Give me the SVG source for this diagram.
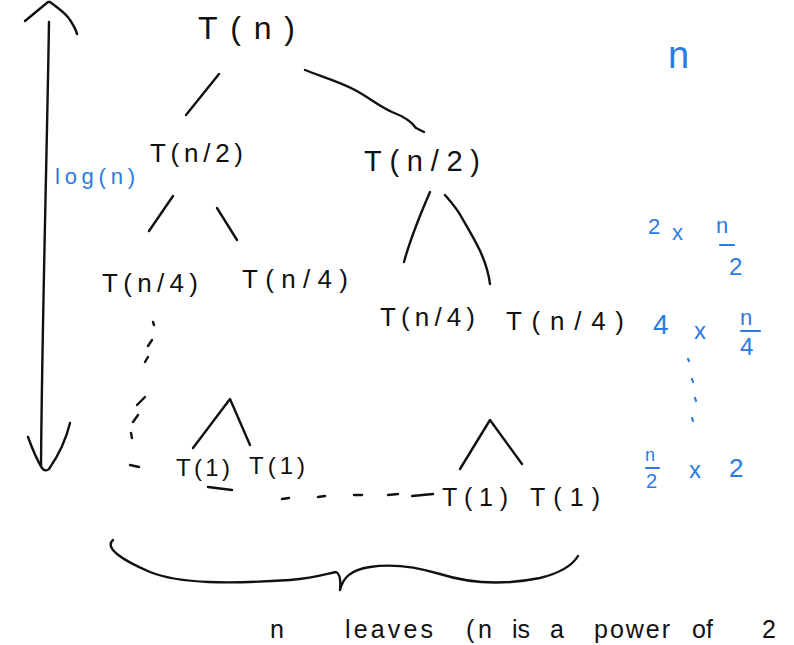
<svg xmlns="http://www.w3.org/2000/svg" width="794" height="645" viewBox="0 0 794 645">
<style>
.s{fill:none;stroke:#111;stroke-width:2.4;stroke-linecap:round;stroke-linejoin:round}
.b{fill:none;stroke:#2a7be4;stroke-width:2.2;stroke-linecap:round}
.t{font-family:"Liberation Sans",Arial,sans-serif;fill:#111}
.bl{font-family:"Liberation Sans",Arial,sans-serif;fill:#2a7be4}
</style>
<rect width="794" height="645" fill="#fff"/>
<g id="connectors">
<path class="s" d="M219 74 L186 115"/>
<path class="s" d="M305 70 C320 76 340 82 355 90 C370 98 378 106 392 112 C405 117 412 122 416 128 L424 132"/>
<path class="s" d="M173 196 L149 231"/>
<path class="s" d="M217 208 L237 240"/>
<path class="s" d="M430 192 C420 215 410 240 404 262"/>
<path class="s" d="M445 195 C452 203 458 210 462 218 C475 240 487 260 490 284"/>
<path class="s" d="M193 448 L230 399 L250 445"/>
<path class="s" d="M460 469 L490 420 L522 464"/>
<g class="s">
<path d="M153 322 L154 325"/>
<path d="M148 346 L152 340"/>
<path d="M145 362 L148 357"/>
<path d="M137 405 L145 397"/>
<path d="M133 422 L138 415"/>
<path d="M131 433 L132 438"/>
<path d="M130 465 L139 467"/>
<path d="M208 487 L232 490"/>
<path d="M282 499 L289 498"/>
<path d="M318 497 L325 496"/>
<path d="M354 495 L362 495"/>
<path d="M388 495 L398 494"/>
<path d="M412 496 L433 494"/>
</g>
</g>
<g id="height-arrow">
<path class="s" d="M49 22 C47 150 42 330 41 466"/>
<path class="s" d="M25 21 L48 2 L50 2 C58 8 66 13 70 20 C74 26 76 30 77 34"/>
<path class="s" d="M28 437 C32 448 37 460 42 468 C44 471 47 471 49 469 C58 456 66 440 70 423"/>
</g>
<g id="node-root"><text class="t" x="198" y="39" font-size="32" textLength="97" lengthAdjust="spacing">T(n)</text></g>
<g id="node-l"><text class="t" x="150" y="162" font-size="26" textLength="93" lengthAdjust="spacing">T(n/2)</text></g>
<g id="node-r"><text class="t" x="364" y="171" font-size="29" textLength="116" lengthAdjust="spacing">T(n/2)</text></g>
<g id="node-ll"><text class="t" x="102" y="292" font-size="26" textLength="96" lengthAdjust="spacing">T(n/4)</text></g>
<g id="node-lr"><text class="t" x="242" y="288" font-size="26" textLength="106" lengthAdjust="spacing">T(n/4)</text></g>
<g id="node-rl"><text class="t" x="380" y="326" font-size="26" textLength="95" lengthAdjust="spacing">T(n/4)</text></g>
<g id="node-rr"><text class="t" x="506" y="330" font-size="26" textLength="118" lengthAdjust="spacing">T(n/4)</text></g>
<g id="leaf-1"><text class="t" x="176" y="476" font-size="24" textLength="54" lengthAdjust="spacing">T(1)</text></g>
<g id="leaf-2"><text class="t" x="249" y="474" font-size="24" textLength="56" lengthAdjust="spacing">T(1)</text></g>
<g id="leaf-3"><text class="t" x="442" y="506" font-size="25" textLength="66" lengthAdjust="spacing">T(1)</text></g>
<g id="leaf-4"><text class="t" x="530" y="506" font-size="25" textLength="70" lengthAdjust="spacing">T(1)</text></g>
<g id="log-label"><text class="bl" x="55" y="184" font-size="22" textLength="80" lengthAdjust="spacing">log(n)</text></g>
<g id="cost-0"><text class="bl" x="668" y="68" font-size="38">n</text></g>
<g id="cost-1">
<text class="bl" x="648" y="234" font-size="22">2</text>
<text class="bl" x="672" y="240" font-size="22">x</text>
<text class="bl" x="716" y="233" font-size="22">n</text>
<path class="b" d="M720 245 L734 245"/>
<text class="bl" x="729" y="275" font-size="24">2</text>
</g>
<g id="cost-2">
<text class="bl" x="653" y="334" font-size="28">4</text>
<text class="bl" x="694" y="339" font-size="24">x</text>
<text class="bl" x="740" y="325" font-size="22">n</text>
<path class="b" d="M741 331 L760 331"/>
<text class="bl" x="740" y="355" font-size="24">4</text>
</g>
<g id="cost-dots" class="b">
<path d="M688 359 L689 361"/>
<path d="M692 379 L693 382"/>
<path d="M695 398 L696 401"/>
<path d="M692 418 L693 421"/>
</g>
<g id="cost-3">
<text class="bl" x="645" y="461" font-size="18">n</text>
<path class="b" d="M646 468 L659 468"/>
<text class="bl" x="646" y="488" font-size="20">2</text>
<text class="bl" x="689" y="478" font-size="24">x</text>
<text class="bl" x="729" y="477" font-size="26">2</text>
</g>
<g id="leaves-brace">
<path class="s" d="M113 540 C104 548 122 560 150 572 C180 584 230 584 290 580 C315 578 330 573 336 572 C340 574 341 580 340 590 M340 590 C343 578 350 570 370 567 C395 563 420 568 440 574 C465 582 500 586 540 578 C560 573 572 566 578 556"/>
</g>
<g id="leaves-label"><text class="t" y="638" font-size="25"><tspan x="270">n</tspan><tspan x="345" textLength="88" lengthAdjust="spacing">leaves</tspan><tspan x="466" textLength="26" lengthAdjust="spacing">(n</tspan><tspan x="512">is</tspan><tspan x="550">a</tspan><tspan x="594" textLength="76" lengthAdjust="spacing">power</tspan><tspan x="692">of</tspan><tspan x="762">2</tspan></text></g>
</svg>
